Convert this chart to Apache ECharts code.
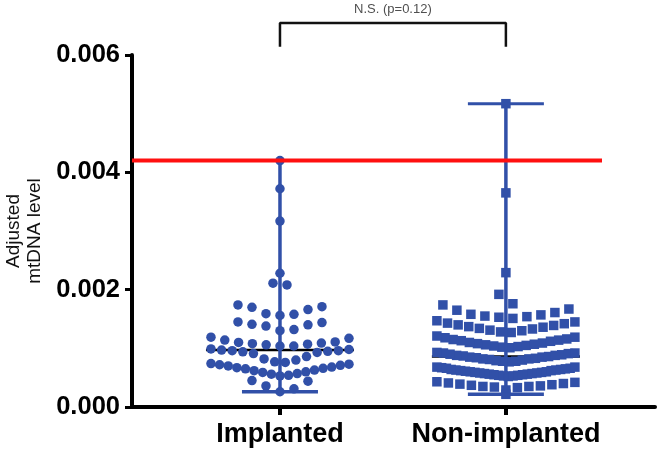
<!DOCTYPE html>
<html>
<head>
<meta charset="utf-8">
<script src="https://cdn.jsdelivr.net/npm/echarts@6/dist/echarts.min.js"></script>
<style>
html,body{margin:0;padding:0;background:#fff;}
#chart{width:657px;height:451px;}
</style>
</head>
<body>
<div id="chart"></div>
<script>
// ---- data ----
const CATEGORIES = ['Implanted', 'Non-implanted'];

const IMPLANTED = [
  0.00420, 0.00372, 0.00317, 0.00228, 0.00211, 0.00208,
  0.00156, 0.00158, 0.00159, 0.00166, 0.00170, 0.00171, 0.00174,
  0.00130, 0.00132, 0.00138, 0.00140, 0.00141, 0.00144, 0.00145,
  0.00104, 0.00104, 0.00106, 0.00107, 0.00108, 0.00109, 0.00110, 0.00111, 0.00114, 0.00117, 0.00119,
  0.00076, 0.00077, 0.00080, 0.00082, 0.00086, 0.00091, 0.00093, 0.00094, 0.00095, 0.00096, 0.00096, 0.00097, 0.00098, 0.00099,
  0.00053, 0.00054, 0.00056, 0.00057, 0.00059, 0.00060, 0.00062, 0.00063, 0.00065, 0.00066, 0.00067, 0.00068, 0.00070, 0.00071, 0.00072, 0.00073, 0.00074,
  0.00026, 0.00031, 0.00036, 0.00044, 0.00045
];

const NON_IMPLANTED = [
  0.00517, 0.00365, 0.00229, 0.00192, 0.00176,
  0.00151, 0.00153, 0.00154, 0.00155, 0.00157, 0.00158, 0.00161, 0.00165, 0.00167, 0.00174,
  0.00127, 0.00128, 0.00130, 0.00131, 0.00133, 0.00134, 0.00136, 0.00137, 0.00139, 0.00140, 0.00142, 0.00143, 0.00145, 0.00147,
  0.00101, 0.00102, 0.00103, 0.00104, 0.00105, 0.00106, 0.00107, 0.00108, 0.00109, 0.00110, 0.00112, 0.00113, 0.00114, 0.00115, 0.00116, 0.00118, 0.00119, 0.00121,
  0.00077, 0.00078, 0.00078, 0.00079, 0.00080, 0.00081, 0.00082, 0.00082, 0.00083, 0.00084, 0.00085, 0.00085, 0.00086, 0.00087, 0.00088, 0.00088, 0.00089, 0.00090, 0.00091, 0.00092, 0.00092, 0.00093,
  0.00052, 0.00053, 0.00053, 0.00054, 0.00054, 0.00055, 0.00055, 0.00056, 0.00056, 0.00057, 0.00057, 0.00058, 0.00058, 0.00059, 0.00059, 0.00060, 0.00060, 0.00061, 0.00062, 0.00062, 0.00063, 0.00063, 0.00064, 0.00064, 0.00065, 0.00066, 0.00066, 0.00067, 0.00068, 0.00068,
  0.00029, 0.00033, 0.00034, 0.00035, 0.00035, 0.00036, 0.00037, 0.00038, 0.00039, 0.00040, 0.00041, 0.00042, 0.00043,
  0.000216
];

const Y_TICKS = [0, 0.002, 0.004, 0.006];
const REFERENCE_LEVEL = 0.0042;
const SIG_LABEL = 'N.S. (p=0.12)';

// ---- layout / style constants ----
const BLUE = '#3150a8';
const RED = '#ff1010';
const W = 657, H = 451;
const GRID = {left: 132, right: 2, top: 55, bottom: 44, outerBoundsMode: 'none', containLabel: false};
const X_MIN = 0.345, X_MAX = 2.66;
const UNIT_PER_PX = (X_MAX - X_MIN) / (W - GRID.left - GRID.right);
const BIN = 0.00025;          // row height of the dot plot (value units)
const MAX_SP = 14;            // px, max spacing between dots in a row
const MAX_SPAN = 138;         // px, max centre-to-centre row width
const MEDIAN_HALF = 74;       // px
const CAP_HALF = 38;          // px
const RED_END_X = 2.4254;     // x-axis units where the reference line stops
const BRACKET_LOW = 0.00614, BRACKET_HIGH = 0.006545, SIG_TEXT_Y = 0.00678;

function swarm(values, cx) {
  const bins = new Map();
  values.forEach(v => {
    const k = Math.floor(v / BIN + 1e-9);
    if (!bins.has(k)) bins.set(k, []);
    bins.get(k).push(v);
  });
  const pts = [];
  bins.forEach(arr => {
    arr.sort((a, b) => a - b);
    const n = arr.length;
    const sp = n > 1 ? Math.min(MAX_SP, MAX_SPAN / (n - 1)) : 0;
    arr.forEach((v, i) => {
      let slot;
      if (n % 2 === 1) {
        slot = i === 0 ? 0 : (i % 2 === 1 ? (i + 1) / 2 : -(i / 2));
      } else {
        const k = Math.floor(i / 2);
        slot = i % 2 === 0 ? (k + 0.5) : -(k + 0.5);
      }
      pts.push([cx + slot * sp * UNIT_PER_PX, v]);
    });
  });
  return pts;
}

function median(a) {
  const s = a.slice().sort((x, y) => x - y);
  const m = Math.floor(s.length / 2);
  return s.length % 2 ? s[m] : (s[m - 1] + s[m]) / 2;
}

function seg(pts, color, width, z) {
  return {
    type: 'line', data: pts, symbol: 'none', silent: true, clip: false, z: z,
    lineStyle: {color: color, width: width, cap: 'butt'}, animation: false
  };
}

const groups = [IMPLANTED, NON_IMPLANTED];
const symbols = ['circle', 'rect'];
const sizes = [9.5, 9.5];
const series = [];

groups.forEach((vals, gi) => {
  const cx = gi + 1;
  const med = median(vals);
  const mn = Math.min.apply(null, vals), mx = Math.max.apply(null, vals);
  const mh = MEDIAN_HALF * UNIT_PER_PX, ch = CAP_HALF * UNIT_PER_PX;
  series.push(seg([[cx - mh, med], [cx + mh, med]], '#000', 2.5, 2));
  series.push({
    name: CATEGORIES[gi], type: 'scatter', symbol: symbols[gi], symbolSize: sizes[gi],
    data: swarm(vals, cx), itemStyle: {color: BLUE, opacity: 1}, z: 3, clip: false
  });
  series.push(seg([[cx, mn], [cx, mx]], BLUE, 3.5, 4));
  series.push(seg([[cx - ch, mn], [cx + ch, mn]], BLUE, 3.5, 4));
  series.push(seg([[cx - ch, mx], [cx + ch, mx]], BLUE, 3, 4));
});

// reference line
series.push(seg([[X_MIN, REFERENCE_LEVEL], [RED_END_X, REFERENCE_LEVEL]], RED, 4, 6));
// significance bracket
series.push(seg([[1, BRACKET_LOW], [1, BRACKET_HIGH], [2, BRACKET_HIGH], [2, BRACKET_LOW]], '#111', 2.5, 6));
series.push({
  type: 'scatter', symbolSize: 0, clip: false, silent: true, z: 6,
  data: [[1.5, SIG_TEXT_Y]],
  label: {show: true, position: 'inside', formatter: SIG_LABEL, color: '#222',
          fontSize: 13, fontFamily: 'Liberation Sans'}
});

const chart = echarts.init(document.getElementById('chart'), null, {renderer: 'canvas'});
chart.setOption({
  animation: false,
  backgroundColor: '#fff',
  grid: GRID,
  xAxis: {
    type: 'value', min: X_MIN, max: X_MAX,
    splitLine: {show: false},
    axisLine: {show: true, lineStyle: {color: '#000', width: 4}},
    axisTick: {show: true, customValues: [1, 2], length: 8, lineStyle: {color: '#000', width: 4}},
    axisLabel: {
      customValues: [1, 2], margin: 14,
      formatter: v => CATEGORIES[Math.round(v) - 1] || '',
      color: '#000', fontSize: 27, fontWeight: 'bold', fontFamily: 'Liberation Sans'
    }
  },
  yAxis: {
    type: 'value', min: Y_TICKS[0], max: Y_TICKS[Y_TICKS.length - 1], interval: Y_TICKS[1] - Y_TICKS[0],
    name: 'Adjusted\nmtDNA level', nameLocation: 'middle', nameGap: 86, nameRotate: 90,
    nameTextStyle: {color: '#111', fontSize: 19, fontFamily: 'Liberation Sans', lineHeight: 21},
    splitLine: {show: false},
    axisLine: {show: true, lineStyle: {color: '#000', width: 4}},
    axisTick: {show: true, length: 7, lineStyle: {color: '#000', width: 3}},
    axisLabel: {
      margin: 12, formatter: v => v.toFixed(3),
      color: '#000', fontSize: 25.5, fontWeight: 'bold', fontFamily: 'Liberation Sans'
    }
  },
  series: series
});
</script>
</body>
</html>
